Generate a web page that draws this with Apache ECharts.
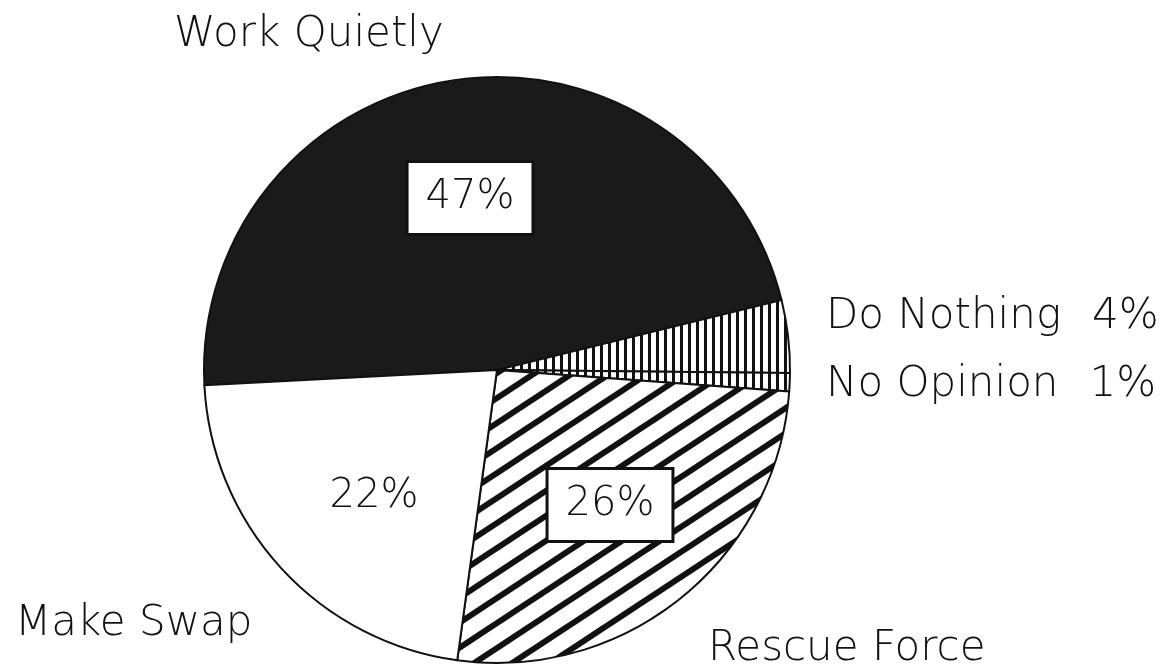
<!DOCTYPE html>
<html>
<head>
<meta charset="utf-8">
<script src="https://cdn.jsdelivr.net/npm/echarts@6/dist/echarts.min.js"></script>
<style>
html,body{margin:0;padding:0;background:#fff;}
#chart{width:1167px;height:668px;}
</style>
</head>
<body>
<div id="chart"></div>
<script>
const categories = ['Work Quietly', 'Do Nothing', 'No Opinion', 'Rescue Force', 'Make Swap'];
const values = [47, 4, 1, 26, 22];
const outerNames = ['Work Quietly', 'Do Nothing', 'No Opinion', 'Rescue Force', 'Make Swap'];
const outerPcts = ['', '4%', '1%', '', ''];
const innerLabels = ['47%', '', '', '26%', '22%'];

// label placement (pixels)
const innerPos = [[470, 198], null, null, [610, 505], [374, 497]];
const outerPos = [[174, 35], [826, 317], [826, 385], [708, 649], [15, 624]];
const boxed = [true, false, false, true, false];

function verticalHatch() {
  const c = document.createElement('canvas');
  c.width = 8; c.height = 8;
  const g = c.getContext('2d');
  g.fillStyle = '#fff'; g.fillRect(0, 0, 8, 8);
  g.fillStyle = '#111'; g.fillRect(0, 0, 3, 8);
  return c;
}
function diagonalHatch() {
  const w = 38, h = 25;
  const c = document.createElement('canvas');
  c.width = w; c.height = h;
  const g = c.getContext('2d');
  g.fillStyle = '#fff'; g.fillRect(0, 0, w, h);
  g.strokeStyle = '#111'; g.lineWidth = 6;
  for (let k = -1; k <= 1; k++) {
    const cc = h + k * h;
    g.beginPath();
    g.moveTo(-w, cc + h);
    g.lineTo(2 * w, cc - 2 * h);
    g.stroke();
  }
  return c;
}
const vPat = { image: verticalHatch(), repeat: 'repeat' };
const dPat = { image: diagonalHatch(), repeat: 'repeat' };
const fills = ['#1a1a1a', vPat, vPat, dPat, '#ffffff'];

const FONT = '"DejaVu Sans", sans-serif';

const mainData = categories.map((name, i) => ({
  name: name,
  value: values[i],
  itemStyle: { color: fills[i] },
  label: innerLabels[i] ? (boxed[i] ? {
    show: true,
    backgroundColor: '#fff',
    borderColor: '#111',
    borderWidth: 3,
    padding: [14, 17]
  } : { show: true }) : { show: false }
}));

const nameData = categories.map((name, i) => ({ name: name, value: values[i] }));

const chart = echarts.init(document.getElementById('chart'), null, { renderer: 'canvas' });
chart.setOption({
  backgroundColor: '#fff',
  animation: false,
  series: [
    {
      type: 'pie',
      center: [497, 370],
      radius: 293,
      startAngle: 183,
      clockwise: true,
      avoidLabelOverlap: false,
      silent: true,
      itemStyle: { borderColor: '#111', borderWidth: 2 },
      label: {
        position: 'inside',
        formatter: p => innerLabels[p.dataIndex],
        color: '#111',
        fontFamily: FONT,
        fontWeight: 200,
        fontSize: 40,
        lineHeight: 42
      },
      labelLine: { show: false },
      labelLayout: function (p) {
        const pos = innerPos[p.dataIndex];
        if (!pos) return {};
        return { x: pos[0], y: pos[1], align: 'center', verticalAlign: 'middle' };
      },
      data: mainData
    },
    {
      type: 'pie',
      center: [497, 370],
      radius: 293,
      startAngle: 183,
      clockwise: true,
      avoidLabelOverlap: false,
      silent: true,
      itemStyle: { color: 'rgba(0,0,0,0)', borderWidth: 0 },
      label: {
        show: true,
        position: 'outside',
        formatter: p => outerPcts[p.dataIndex]
          ? '{n|' + outerNames[p.dataIndex] + '}{p|' + outerPcts[p.dataIndex] + '}'
          : '{n|' + outerNames[p.dataIndex] + '}',
        rich: {
          n: { fontFamily: FONT, fontWeight: 200, fontSize: 42, color: '#111' },
          p: { fontFamily: FONT, fontWeight: 200, fontSize: 42, color: '#111', padding: [0, 0, 0, 31] }
        }
      },
      labelLine: { show: false },
      labelLayout: function (p) {
        const pos = outerPos[p.dataIndex];
        return { x: pos[0], y: pos[1], align: 'left', verticalAlign: 'middle' };
      },
      data: nameData
    }
  ]
});
</script>
</body>
</html>
